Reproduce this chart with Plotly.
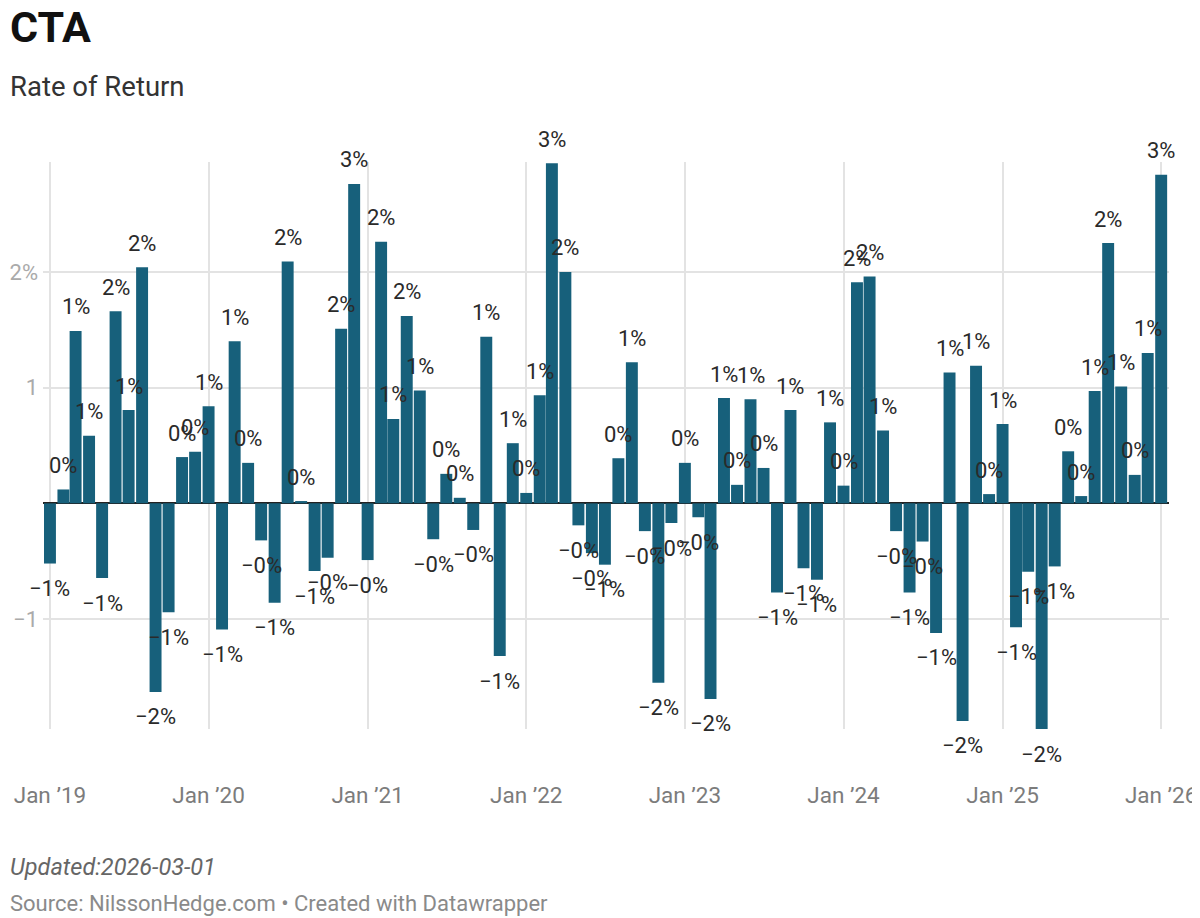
import pandas as pd
import plotly.graph_objects as go

# monthly returns in %, Jan 2019 .. Jan 2026
months = pd.date_range("2019-01-01", "2026-01-01", freq="MS")
returns = [
    -0.52, 0.12, 1.49, 0.585, -0.646, 1.66, 0.806, 2.04, -1.63, -0.94, 0.40, 0.446,  # 2019
    0.84, -1.09, 1.40, 0.35, -0.32, -0.86, 2.09, 0.02, -0.585, -0.47, 1.51, 2.76,  # 2020
    -0.49, 2.26, 0.73, 1.62, 0.976, -0.31, 0.255, 0.048, -0.23, 1.44, -1.32, 0.52,  # 2021
    0.09, 0.935, 2.94, 2.0, -0.19, -0.43, -0.53, 0.39, 1.22, -0.24, -1.55, -0.17,  # 2022
    0.35, -0.12, -1.69, 0.91, 0.16, 0.90, 0.306, -0.77, 0.806, -0.56, -0.66, 0.70,  # 2023
    0.153, 1.91, 1.96, 0.63, -0.24, -0.77, -0.33, -1.12, 1.13, -1.88, 1.19, 0.08,  # 2024
    0.685, -1.07, -0.59, -1.95, -0.545, 0.45, 0.063, 0.97, 2.25, 1.01, 0.246, 1.30,  # 2025
    2.84,  # 2026
]

x_tick_vals = ["2019-01-01", "2020-01-01", "2021-01-01", "2022-01-01",
               "2023-01-01", "2024-01-01", "2025-01-01", "2026-01-01"]
x_tick_text = ["Jan ’19", "Jan ’20", "Jan ’21", "Jan ’22",
               "Jan ’23", "Jan ’24", "Jan ’25", "Jan ’26"]
y_tick_vals = [-1, 1, 2]
y_tick_text = ["−1", "1", "2%"]

BAR = "#17607b"
FONT = "Roboto"

# the page body adds an 8px margin, so the figure is drawn 8px smaller
OFF = 8
W, H = 1200 - OFF, 918 - OFF
ML, MR, MT, MB = 43 - OFF, 31, 162 - OFF, 189


def pct_label(v):
    # whole percent, keeps the sign even for -0
    sign = "−" if v < 0 else ""
    return f"{sign}{round(abs(v)):.0f}%"


fig = go.Figure()
fig.add_trace(
    go.Bar(
        x=months,
        y=returns,
        width=27.5 * 86400000,
        marker=dict(color=BAR, line=dict(width=0)),
        hoverinfo="x+y",
    )
)

# value labels, above positive bars and below negative ones
for m, v in zip(months, returns):
    fig.add_annotation(
        x=m, y=v, text=pct_label(v), showarrow=False,
        xanchor="center", yanchor="middle",
        yshift=24 if v >= 0 else -25,
        font=dict(family=FONT, size=22, color="#2a2a2a"),
    )

fig.update_layout(
    width=W,
    height=H,
    margin=dict(l=ML, r=MR, t=MT, b=MB, autoexpand=False),
    plot_bgcolor="white",
    paper_bgcolor="white",
    showlegend=False,
    font=dict(family=FONT),
    xaxis=dict(
        type="date",
        range=["2018-12-16", "2026-01-19"],
        tickvals=x_tick_vals,
        ticktext=x_tick_text,
        showgrid=True,
        gridcolor="#e3e3e3",
        gridwidth=2,
        zeroline=False,
        showline=False,
        ticks="",
        automargin=False,
        ticklabelstandoff=50,
        tickfont=dict(family=FONT, size=22.5, color="#7c7c7c"),
    ),
    yaxis=dict(
        range=[-1.95, 2.95],
        tickvals=y_tick_vals,
        ticktext=y_tick_text,
        showgrid=True,
        gridcolor="#e3e3e3",
        gridwidth=2,
        zeroline=True,
        zerolinecolor="#222222",
        zerolinewidth=2,
        showline=False,
        ticks="",
        automargin=False,
        ticklabelstandoff=4,
        tickfont=dict(family=FONT, size=22, color="#aaaaaa"),
    ),
)

PW = W - ML - MR
PH = H - MT - MB


def px_x(px):
    return (px - OFF - ML) / PW


def px_y(py):
    return (H - MB - (py - OFF)) / PH


fig.add_annotation(text="<b>CTA</b>", x=px_x(8), y=px_y(27), xref="paper", yref="paper",
                   xanchor="left", yanchor="middle", showarrow=False,
                   font=dict(family=FONT, size=43, color="#111111"))
fig.add_annotation(text="Rate of Return", x=px_x(8), y=px_y(87), xref="paper", yref="paper",
                   xanchor="left", yanchor="middle", showarrow=False,
                   font=dict(family=FONT, size=27.5, color="#333333"))
fig.add_annotation(text="<i>Updated:2026-03-01</i>", x=px_x(8), y=px_y(867), xref="paper",
                   yref="paper", xanchor="left", yanchor="middle", showarrow=False,
                   font=dict(family=FONT, size=23.5, color="#666666"))
fig.add_annotation(text="Source: NilssonHedge.com • Created with Datawrapper", x=px_x(8),
                   y=px_y(903), xref="paper", yref="paper", xanchor="left",
                   yanchor="middle", showarrow=False,
                   font=dict(family=FONT, size=22, color="#8a8a8a"))

fig.write_html("out.html")
